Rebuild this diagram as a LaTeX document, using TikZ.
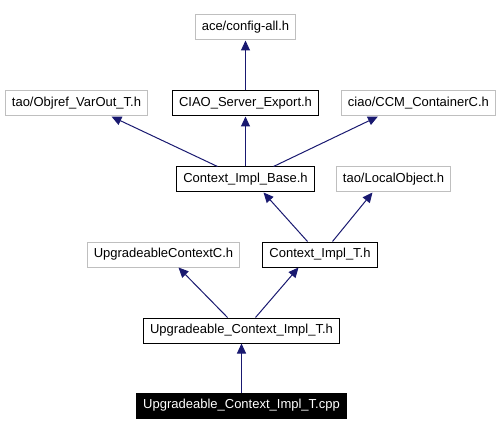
\documentclass[tikz,border=0pt]{standalone}
\usepackage{fontspec}
\setmainfont{Liberation Sans}
\usepackage{xcolor}
\usetikzlibrary{arrows.meta,positioning}

\definecolor{extgray}{RGB}{191,191,191}
\definecolor{depblue}{RGB}{25,25,112}

\begin{document}
\begin{tikzpicture}[
  x=1pt, y=1pt,
  node distance=50pt,
  every node/.style={font=\fontsize{13}{15}\selectfont},
  box/.style={rectangle, draw, line width=1pt, inner xsep=6.5pt, inner ysep=0pt, minimum height=25pt},
  hdr/.style={box, draw=black},
  ext/.style={box, draw=extgray},
  src/.style={box, draw=black, fill=black, text=white},
  dep/.style={-{Triangle[length=10pt, width=9pt]}, color=depblue, line width=1pt}
]
\useasboundingbox (0,0) rectangle (502,-435);

\node[src] (cpp) at (241.5,-405.5) {Upgradeable\_Context\_Impl\_T.cpp};
\node[hdr, above=49pt of cpp] (ucit) {Upgradeable\_Context\_Impl\_T.h};

\node[ext, above=50pt of ucit, xshift=-78pt] (ucc) {UpgradeableContextC.h};
\node[hdr, above=50pt of ucit, xshift=78.5pt] (cit) {Context\_Impl\_T.h};

\node[hdr, above=49pt of cit, xshift=-74.5pt] (cib) {Context\_Impl\_Base.h};
\node[ext, above=49pt of cit, xshift=73.5pt] (lo) {tao/LocalObject.h};

\node[hdr, above=of cib] (ciao) {CIAO\_Server\_Export.h};
\node[ext, left=24pt of ciao] (objref) {tao/Objref\_VarOut\_T.h};
\node[ext, right=22pt of ciao] (ccm) {ciao/CCM\_ContainerC.h};

\node[ext, above=of ciao] (ace) {ace/config-all.h};

\draw[dep] (ciao) -- (ace);
\draw[dep] ([xshift=-28pt]cib.north) -- ([xshift=35pt]objref.south);
\draw[dep] (cib) -- (ciao);
\draw[dep] ([xshift=28pt]cib.north) -- ([xshift=-40.5pt]ccm.south);
\draw[dep] ([xshift=-12.5pt]cit.north) -- ([xshift=18pt]cib.south);
\draw[dep] ([xshift=12.5pt]cit.north) -- ([xshift=-21pt]lo.south);
\draw[dep] ([xshift=-14pt]ucit.north) -- ([xshift=15pt]ucc.south);
\draw[dep] ([xshift=14pt]ucit.north) -- ([xshift=-21.5pt]cit.south);
\draw[dep] (cpp) -- (ucit);
\end{tikzpicture}
\end{document}
